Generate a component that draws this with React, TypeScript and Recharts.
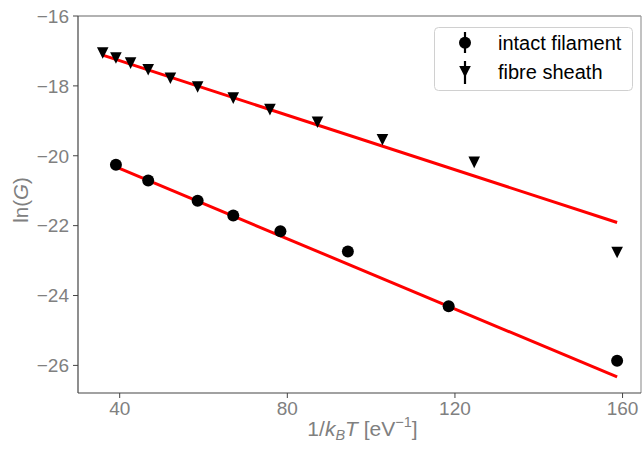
import { ComposedChart, Scatter, XAxis, YAxis, ReferenceLine } from 'recharts';

// 1/kBT [eV^-1] vs ln(G)
const filamentX = [39.1, 46.8, 58.6, 67.1, 78.35, 94.45, 118.5, 158.7];
const filamentY = [-20.26, -20.71, -21.29, -21.71, -22.16, -22.74, -24.31, -25.87];
const sheathX = [35.95, 39.1, 42.6, 46.8, 52.1, 58.6, 67.1, 75.85, 87.2, 102.7, 124.6, 158.7];
const sheathY = [-17.06, -17.2, -17.35, -17.54, -17.78, -18.03, -18.35, -18.68, -19.04, -19.54, -20.19, -22.77];

// fitted lines (end points)
const sheathFitX = [35.95, 158.7];
const sheathFitY = [-17.12, -21.91];
const filamentFitX = [39.1, 158.7];
const filamentFitY = [-20.32, -26.33];

const xTicks = [40, 80, 120, 160];
const yTicks = [-26, -24, -22, -20, -18, -16];
const legendLabels = ['intact filament', 'fibre sheath'];

const FONT = '"Liberation Sans", Arial, sans-serif';
const GREY = '#808080';

const toPoints = (xs: number[], ys: number[]) => xs.map((x, i) => ({ x, y: ys[i] }));

const filament = toPoints(filamentX, filamentY);
const sheath = toPoints(sheathX, sheathY);
const sheathFit = toPoints(sheathFitX, sheathFitY);
const filamentFit = toPoints(filamentFitX, filamentFitY);

const Dot = (p: any) => <circle cx={p.cx} cy={p.cy} r={6} fill="#000" />;

const TriDown = (p: any) => {
  const s = 5.8;
  return (
    <path
      d={`M${p.cx - s},${p.cy - s} L${p.cx + s},${p.cy - s} L${p.cx},${p.cy + s} Z`}
      fill="#000"
    />
  );
};

const Nothing = () => <g />;

const minus = (v: number) => (v < 0 ? `\u2212${Math.abs(v)}` : `${v}`);

const XLabel = (props: any) => {
  const vb = props.viewBox || {};
  const cx = vb.x + vb.width / 2 + 3;
  return (
    <text x={cx} y={436} textAnchor="middle" fill={GREY} fontSize={21} fontFamily={FONT}>
      <tspan>1/</tspan>
      <tspan fontStyle="italic">k</tspan>
      <tspan fontStyle="italic" fontSize={14.5} dy={4}>B</tspan>
      <tspan fontStyle="italic" dy={-4}>T</tspan>
      <tspan> [eV</tspan>
      <tspan fontSize={14.5} dy={-9}>{'\u22121'}</tspan>
      <tspan dy={9}>]</tspan>
    </text>
  );
};

const YLabel = () => (
  <text
    x={0}
    y={0}
    transform="translate(28,200) rotate(-90)"
    textAnchor="middle"
    fill={GREY}
    fontSize={20.5}
    fontFamily={FONT}
  >
    <tspan>ln(</tspan>
    <tspan fontStyle="italic">G</tspan>
    <tspan>)</tspan>
  </text>
);

function LegendBox() {
  return (
    <svg
      width={643}
      height={452}
      style={{ position: 'absolute', left: 0, top: 0, pointerEvents: 'none' }}
    >
      <rect x={434.5} y={27.5} width={198} height={63} rx={4} fill="#fff" fillOpacity={0.8} stroke="#d0d0d0" />
      <line x1={465} x2={465} y1={32} y2={53} stroke="#000" strokeWidth={2.2} />
      <circle cx={465} cy={42.7} r={6} fill="#000" />
      <line x1={465} x2={465} y1={61} y2={84} stroke="#000" strokeWidth={2.2} />
      <path d="M459.2,66 L470.8,66 L465,77.6 Z" fill="#000" />
      <text x={498} y={49.5} fontSize={20} fontFamily={FONT} fill="#000">{legendLabels[0]}</text>
      <text x={498} y={78.5} fontSize={20} fontFamily={FONT} fill="#000">{legendLabels[1]}</text>
    </svg>
  );
}

export default function App() {
  return (
    <div style={{ position: 'absolute', left: 0, top: 0, width: 643, height: 452, background: '#fff' }}>
      <ComposedChart width={643} height={452} margin={{ top: 16, right: 2, bottom: 0, left: 0 }}>
        <XAxis
          type="number"
          dataKey="x"
          domain={[30.05, 164.4]}
          ticks={xTicks}
          height={59}
          tickSize={5}
          tickMargin={4}
          axisLine={{ stroke: '#444', strokeWidth: 1.2 }}
          tickLine={{ stroke: '#444' }}
          tick={{ fill: GREY, fontSize: 19, fontFamily: FONT }}
          label={(p: any) => <XLabel {...p} />}
        />
        <YAxis
          type="number"
          dataKey="y"
          domain={[-26.79, -16]}
          ticks={yTicks}
          width={78}
          tickSize={5}
          tickMargin={4}
          tickFormatter={minus}
          axisLine={{ stroke: '#444', strokeWidth: 1.2 }}
          tickLine={{ stroke: '#444' }}
          tick={{ fill: GREY, fontSize: 19, fontFamily: FONT }}
          label={() => <YLabel />}
        />
        <ReferenceLine y={-16} stroke="#666" strokeWidth={1.2} />
        <ReferenceLine x={164.4} stroke="#999" strokeWidth={1.2} />
        <Scatter
          data={sheathFit}
          line={{ stroke: '#ff0000', strokeWidth: 3 }}
          shape={Nothing}
          isAnimationActive={false}
        />
        <Scatter
          data={filamentFit}
          line={{ stroke: '#ff0000', strokeWidth: 3 }}
          shape={Nothing}
          isAnimationActive={false}
        />
        <Scatter data={filament} shape={Dot} isAnimationActive={false} />
        <Scatter data={sheath} shape={TriDown} isAnimationActive={false} />
      </ComposedChart>
      <LegendBox />
    </div>
  );
}
